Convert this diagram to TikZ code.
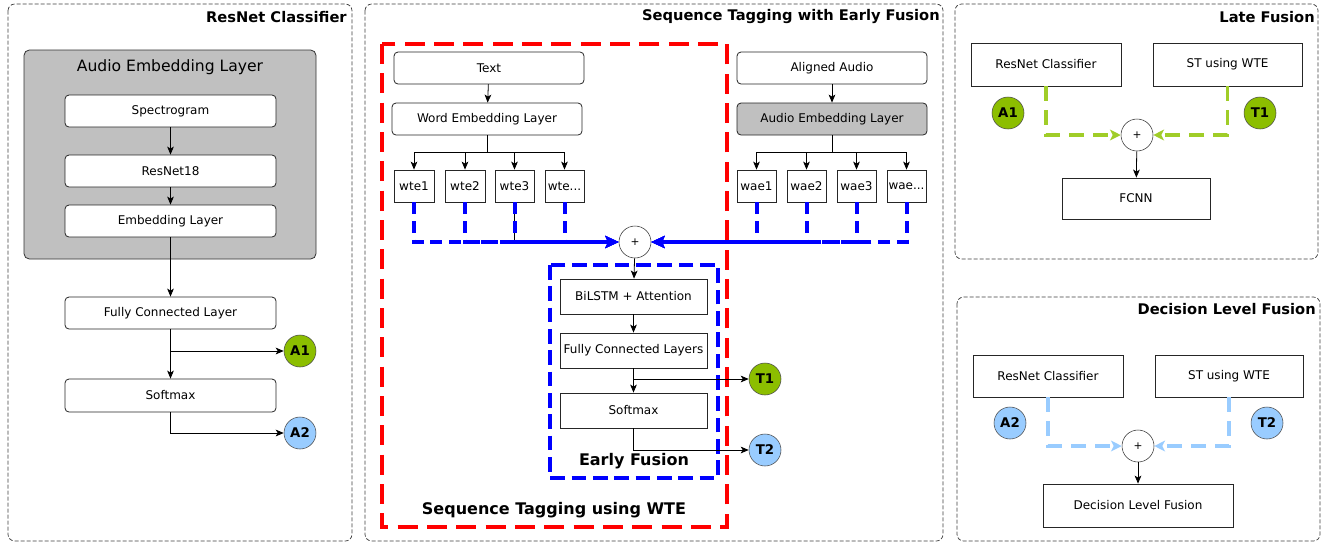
\documentclass[tikz,border=0pt]{standalone}
\usepackage{fontspec}
\setmainfont{DejaVu Sans}
\usetikzlibrary{arrows.meta,calc}
\definecolor{boxgray}{RGB}{192,192,192}
\definecolor{agreen}{RGB}{140,190,0}
\definecolor{lgreen}{RGB}{160,205,40}
\definecolor{lblue}{RGB}{153,204,255}
\newcommand{\bx}[7]{%
  \pgfmathsetmacro{\mybw}{(#5-#3)*0.75}%
  \pgfmathsetmacro{\mybh}{(#6-#4)*0.75}%
  \node[#2, minimum width=\mybw pt, minimum height=\mybh pt, inner sep=0pt] (#1) at ({(#3+#5)/2},{(#4+#6)/2}) {#7};}
\begin{document}
\begin{tikzpicture}[x=0.75pt,y=-0.75pt,
  panel/.style={draw=black!75, dash pattern=on 3pt off 1.5pt, line width=0.55pt, rounded corners=5pt},
  rbox/.style={draw=black!85, rounded corners=3pt, fill=white, line width=0.6pt, font=\fontsize{9}{11}\selectfont},
  gbox/.style={rbox, fill=boxgray},
  sbox/.style={draw=black!85, fill=white, line width=0.6pt, font=\fontsize{9}{11}\selectfont},
  ttl/.style={font=\bfseries\fontsize{11}{13}\selectfont, anchor=east, inner sep=0pt},
  arr/.style={-{Stealth[length=6pt,width=5pt,inset=1.5pt]}, line width=0.6pt},
  circ/.style={circle, draw=black!70, minimum size=24pt, inner sep=0pt, font=\bfseries\fontsize{10}{12}\selectfont},
  pluscirc/.style={circle, draw=black!80, fill=white, minimum size=24pt, inner sep=0pt, font=\fontsize{8}{10}\selectfont},
  bdash/.style={draw=blue, line width=3pt, dash pattern=on 9pt off 5pt, -{Stealth[length=10pt,width=9pt,inset=2pt]}},
  gdash/.style={draw=lgreen, line width=2.5pt, dash pattern=on 11pt off 7pt, -{Stealth[length=8pt,width=8pt,inset=2pt]}},
  ldash/.style={draw=lblue, line width=2.5pt, dash pattern=on 11pt off 7pt, -{Stealth[length=8pt,width=8pt,inset=2pt]}},
  ]
\path[use as bounding box, fill=white] (0,0) rectangle (1330,544);

% ---------------- Panel 1: ResNet Classifier
\draw[panel] (8,4) rectangle (352,541);
\node[ttl] (t_p1) at (347,17) {ResNet Classifier};
\draw[draw=black!80, fill=boxgray, rounded corners=4pt, line width=0.6pt] (24,50) rectangle (316,259);
\node[font=\fontsize{11.7}{14}\selectfont] (t_ael) at (170,67) {Audio Embedding Layer};
\bx{spec}{rbox}{65}{95}{276}{127}{Spectrogram}
\bx{res}{rbox}{65}{155}{276}{187}{ResNet18}
\bx{emb}{rbox}{65}{205}{276}{237}{Embedding Layer}
\bx{fc}{rbox}{65}{297}{276}{329}{Fully Connected Layer}
\bx{sm1}{rbox}{65}{379}{276}{412}{Softmax}
\node[circ, fill=agreen] (a1) at (300,351) {A1};
\node[circ, fill=lblue] (a2) at (300,433) {A2};
\draw[arr] (spec) -- (res);
\draw[arr] (res) -- (emb);
\draw[arr] (emb) -- (fc);
\draw[arr] (fc) -- (sm1);
\draw[arr] (fc.south |- a1) -- (a1);
\draw[arr] (sm1.south) |- (a2);

% ---------------- Panel 2: Sequence Tagging with Early Fusion
\draw[panel] (365,4) rectangle (943,541);
\node[ttl] (t_p2) at (940,17) {Sequence Tagging with Early Fusion};
\draw[red, line width=3pt, dash pattern=on 15pt off 7pt] (382,44) rectangle (727,527);
\node[font=\bfseries\fontsize{12}{14}\selectfont] (t_st) at (554,510) {Sequence Tagging using WTE};
\draw[blue, line width=3pt, dash pattern=on 11pt off 5pt] (550,265) rectangle (718,478);
\node[font=\bfseries\fontsize{12}{14}\selectfont] (t_ef) at (634,461) {Early Fusion};

\bx{txt}{rbox}{394}{52}{584}{84}{Text}
\bx{wel}{rbox}{392}{103}{582}{135}{Word Embedding Layer}
\bx{wte1}{sbox}{394}{170}{434}{202}{wte1}
\bx{wte2}{sbox}{445}{170}{485}{202}{wte2}
\bx{wte3}{sbox}{495}{170}{534}{202}{wte3}
\bx{wte4}{sbox}{545}{170}{584}{202}{wte...}
\bx{aa}{rbox}{737}{52}{927}{84}{Aligned Audio}
\bx{ael}{gbox}{737}{103}{927}{135}{Audio Embedding Layer}
\bx{wae1}{sbox}{737}{170}{776}{202}{wae1}
\bx{wae2}{sbox}{787}{170}{826}{202}{wae2}
\bx{wae3}{sbox}{837}{170}{876}{202}{wae3}
\bx{wae4}{sbox}{887}{170}{926}{202}{wae...}
\node[pluscirc] (ep) at (635,242) {+};
\bx{bil}{sbox}{560}{279}{707}{314}{BiLSTM + Attention}
\bx{fcl}{sbox}{560}{333}{707}{368}{Fully Connected Layers}
\bx{sm2}{sbox}{560}{393}{707}{428}{Softmax}
\node[circ, fill=agreen] (t1) at (765,379) {T1};
\node[circ, fill=lblue] (t2) at (765,450) {T2};

\draw[arr] (txt) -- (wel);
\draw[arr] (aa) -- (ael);
\coordinate (wbus) at (487,152);
\coordinate (abus) at (832,152);
\foreach \n in {wte1,wte2,wte3,wte4} {\draw[arr] (wel.south) -- (wbus) -| (\n);}
\foreach \n in {wae1,wae2,wae3,wae4} {\draw[arr] (ael.south) -- (abus) -| (\n);}
\draw[line width=0.6pt] (wte3.south) -- (wte3.south |- ep);
\foreach \n in {wte1,wte2,wte3,wte4} {\draw[bdash] (\n.south) |- (ep.west);}
\foreach \n in {wae1,wae2,wae3,wae4} {\draw[bdash] (\n.south) |- (ep.east);}
\draw[arr] (ep) -- (bil);
\draw[arr] (bil) -- (fcl);
\draw[arr] (fcl) -- (sm2);
\draw[arr] (fcl.south |- t1) -- (t1);
\draw[arr] (sm2.south) |- (t2);

% ---------------- Panel 3: Late Fusion
\draw[panel] (955,4) rectangle (1318,259);
\node[ttl] (t_p3) at (1315,17) {Late Fusion};
\bx{rc1}{sbox}{971}{43}{1121}{86}{ResNet Classifier}
\bx{st1}{sbox}{1153}{43}{1302}{86}{ST using WTE}
\node[circ, fill=agreen] (la1) at (1008,113) {A1};
\node[circ, fill=agreen] (lt1) at (1260,113) {T1};
\node[pluscirc] (lp) at (1137,135) {+};
\bx{fcnn}{sbox}{1062}{178}{1210}{219}{FCNN}
\draw[gdash] (rc1.south) |- (lp.west);
\draw[gdash] (st1.south) |- (lp.east);
\draw[arr] (lp) -- (fcnn);

% ---------------- Panel 4: Decision Level Fusion
\draw[panel] (957,297) rectangle (1320,541);
\node[ttl] (t_p4) at (1316,309) {Decision Level Fusion};
\bx{rc2}{sbox}{973}{355}{1123}{397}{ResNet Classifier}
\bx{st2}{sbox}{1155}{355}{1303}{397}{ST using WTE}
\node[circ, fill=lblue] (da2) at (1010,423) {A2};
\node[circ, fill=lblue] (dt2) at (1267,423) {T2};
\node[pluscirc] (dp) at (1138,446) {+};
\bx{dlf}{sbox}{1043}{484}{1233}{527}{Decision Level Fusion}
\draw[ldash] (rc2.south) |- (dp.west);
\draw[ldash] (st2.south) |- (dp.east);
\draw[arr] (dp) -- (dlf);
\end{tikzpicture}
\end{document}
